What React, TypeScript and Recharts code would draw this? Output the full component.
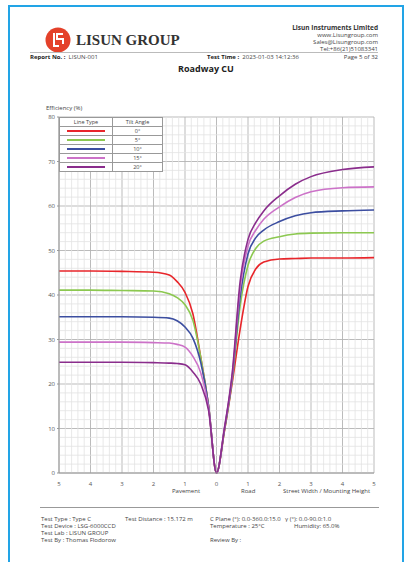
import React from 'react';
import { LineChart, Line, XAxis, YAxis, CartesianGrid, ReferenceLine, Legend } from 'recharts';

// distance across the road (negative = pavement side)
const positions = [-5, -4, -3, -2, -1.5, -1.25, -1, -0.75, -0.5, -0.25, 0, 0.25, 0.5, 0.75, 1, 1.25, 1.5, 2, 2.5, 3, 4, 5];

const tilt0 = [45.4, 45.4, 45.3, 45.1, 44.5, 43, 40.6, 35.8, 26, 15, 0, 9.3, 20.3, 32.3, 41.9, 45.9, 47.4, 48.1, 48.2, 48.3, 48.3, 48.4];
const tilt5 = [41.1, 41.1, 41, 40.9, 40.3, 39.4, 37.8, 34.3, 26, 15, 0, 9.5, 21, 37.5, 46.7, 50.5, 52.1, 53.1, 53.7, 53.9, 54, 54];
const tilt10 = [35.1, 35.1, 35.1, 35, 34.8, 34.2, 32.8, 30.3, 24.8, 15, 0, 9.7, 21.5, 39.5, 49.2, 52.9, 54.6, 56.5, 57.8, 58.5, 58.9, 59.1];
const tilt15 = [29.4, 29.4, 29.4, 29.3, 29.2, 28.9, 28.3, 26.2, 22.5, 14.5, 0, 10, 22, 41.5, 51, 54.6, 57, 59.8, 61.9, 63.2, 64.1, 64.3];
const tilt20 = [24.9, 24.9, 24.9, 24.8, 24.7, 24.6, 24.3, 22.7, 20, 14, 0, 10, 22.5, 43, 52.5, 56.3, 58.9, 62.3, 64.9, 66.6, 68.2, 68.8];

const seriesNames = ['0°', '5°', '10°', '15°', '20°'];
const seriesKeys = ['t0', 't5', 't10', 't15', 't20'];
const seriesColors = ['#e8262b', '#8cc850', '#3c4ea0', '#cc72c8', '#8a2d8c'];

const xTicks = [-5, -4, -3, -2, -1, 0, 1, 2, 3, 4, 5];
const yTicks = [0, 10, 20, 30, 40, 50, 60, 70, 80];

const rows = positions.map((x, i) => ({
  x,
  t0: tilt0[i],
  t5: tilt5[i],
  t10: tilt10[i],
  t15: tilt15[i],
  t20: tilt20[i],
}));

// minor grid positions (0.2 in x, 2 in y)
const minorX: number[] = [];
for (let i = -25; i <= 25; i++) if (i % 5 !== 0) minorX.push(i / 5);
const minorY: number[] = [];
for (let i = 0; i <= 40; i++) if (i % 5 !== 0) minorY.push(i * 2);

const font = '"Open Sans", "Noto Sans", sans-serif';

const LegendTable = () => (
  <table style={{ borderCollapse: 'collapse', background: '#fff', fontFamily: font, fontSize: 5.5, color: '#444', width: 104 }}>
    <tbody>
      <tr style={{ height: 9 }}>
        <td style={{ border: '1px solid #999', textAlign: 'center', padding: 0, width: 52 }}>Line Type</td>
        <td style={{ border: '1px solid #999', textAlign: 'center', padding: 0 }}>Tilt Angle</td>
      </tr>
      {seriesNames.map((n, i) => (
        <tr key={n} style={{ height: 9 }}>
          <td style={{ border: '1px solid #999', padding: 0, textAlign: 'center' }}>
            <div style={{ width: 38, height: 2, background: seriesColors[i], margin: '0 auto' }} />
          </td>
          <td style={{ border: '1px solid #999', textAlign: 'center', padding: 0, lineHeight: '8px' }}>{n}</td>
        </tr>
      ))}
    </tbody>
  </table>
);

const txt = (top: number, left: number, s: React.ReactNode, extra: React.CSSProperties = {}) => (
  <div style={{ position: 'absolute', top, left, fontSize: 6, color: '#444', whiteSpace: 'nowrap', lineHeight: '8px', ...extra }}>{s}</div>
);

const App = () => {
  return (
    <div style={{ position: 'absolute', left: 0, top: 0, width: 408, height: 562, background: '#fff', fontFamily: font, overflow: 'hidden' }}>
      <div style={{ position: 'absolute', left: 8, top: 5, width: 392, height: 570, borderTop: '2px solid #22a4e6', borderLeft: '2px solid #22a4e6', borderRight: '2px solid #22a4e6' }} />

      {/* logo */}
      <svg style={{ position: 'absolute', left: 45, top: 27 }} width={26} height={26}>
        <circle cx={13} cy={13} r={12.5} fill="#e4412a" />
        <path d="M9 6 L9 19 L14 19 M18 7 L12 7 L12 12 L18 12 L18 17" stroke="#fff" strokeWidth={2} fill="none" />
      </svg>
      <div style={{ position: 'absolute', left: 76, top: 32, fontFamily: '"Liberation Serif", serif', fontWeight: 'bold', fontSize: 15, color: '#333' }}>LISUN GROUP</div>

      {txt(24, 0, 'Lisun Instruments Limited', { right: 30, left: 'auto', fontWeight: 'bold', fontSize: 6.5, color: '#333' })}
      {txt(31, 0, 'www.Lisungroup.com', { right: 30, left: 'auto' })}
      {txt(38, 0, 'Sales@Lisungroup.com', { right: 30, left: 'auto' })}
      {txt(45, 0, 'Tel:+86(21)51083341', { right: 30, left: 'auto' })}
      <div style={{ position: 'absolute', left: 30, top: 52, width: 348, height: 1, background: '#bbb' }} />

      {txt(53, 30, <><b style={{ color: '#222' }}>Report No. :</b>&nbsp; LISUN-001</>)}
      {txt(53, 207, <><b style={{ color: '#222' }}>Test Time :</b>&nbsp; 2023-01-03 14:12:36</>)}
      {txt(53, 0, 'Page 5 of 32', { right: 30, left: 'auto' })}
      <div style={{ position: 'absolute', left: 0, width: 408, top: 62, textAlign: 'center', fontSize: 9, fontWeight: 'bold', color: '#222', paddingLeft: 2 }}>Roadway CU</div>

      {txt(104, 46, 'Efficiency (%)', { fontSize: 6 })}

      <div style={{ position: 'absolute', left: 0, top: 0 }}>
        <LineChart width={400} height={500} data={rows} margin={{ top: 117, right: 26, bottom: 7, left: 39 }}>
          {minorX.map((v) => (
            <ReferenceLine key={'mx' + v} x={v} stroke="#e2e2e2" strokeWidth={0.8} />
          ))}
          {minorY.map((v) => (
            <ReferenceLine key={'my' + v} y={v} stroke="#e2e2e2" strokeWidth={0.8} />
          ))}
          <CartesianGrid stroke="#b3b3b3" strokeWidth={0.9} />
          <XAxis
            dataKey="x"
            type="number"
            domain={[-5, 5]}
            ticks={xTicks}
            tickFormatter={(v: number) => String(Math.abs(v))}
            tick={{ fontSize: 6, fill: '#555', fontFamily: font }}
            tickLine={false}
            axisLine={{ stroke: '#999' }}
            tickMargin={3}
            height={20}
          />
          <YAxis
            type="number"
            domain={[0, 80]}
            ticks={yTicks}
            tick={{ fontSize: 6, fill: '#555', fontFamily: font }}
            tickLine={{ stroke: '#999' }}
            tickSize={2}
            axisLine={{ stroke: '#999' }}
            width={20}
          />
          {seriesKeys.map((k, i) => (
            <Line key={k} type="monotone" dataKey={k} name={seriesNames[i]} stroke={seriesColors[i]} strokeWidth={1.6} dot={false} isAnimationActive={false} />
          ))}
          <Legend
            layout="vertical"
            align="center"
            verticalAlign="middle"
            content={() => <LegendTable />}
            wrapperStyle={{ position: 'absolute', left: 59, top: 117, width: 104 }}
          />
        </LineChart>
      </div>

      {txt(487, 172, 'Pavement')}
      {txt(487, 241, 'Road')}
      {txt(487, 283, 'Street Width / Mounting Height')}

      <div style={{ position: 'absolute', left: 40, top: 507, width: 339, height: 1, background: '#999' }} />
      {txt(515, 41, 'Test Type :   Type C')}
      {txt(515, 125, 'Test Distance :  15.172 m')}
      {txt(515, 210, 'C Plane (°):  0.0-360.0:15.0')}
      {txt(515, 285, 'γ (°):   0.0-90.0:1.0')}
      {txt(522, 41, 'Test Device :  LSG-6000CCD')}
      {txt(522, 210, 'Temperature :   25°C')}
      {txt(522, 294, 'Humidity:   65.0%')}
      {txt(529, 41, 'Test Lab :  LISUN GROUP')}
      {txt(536, 41, 'Test By :  Thomas Flodorow')}
      {txt(536, 210, 'Review By :')}
    </div>
  );
};

export default App;
